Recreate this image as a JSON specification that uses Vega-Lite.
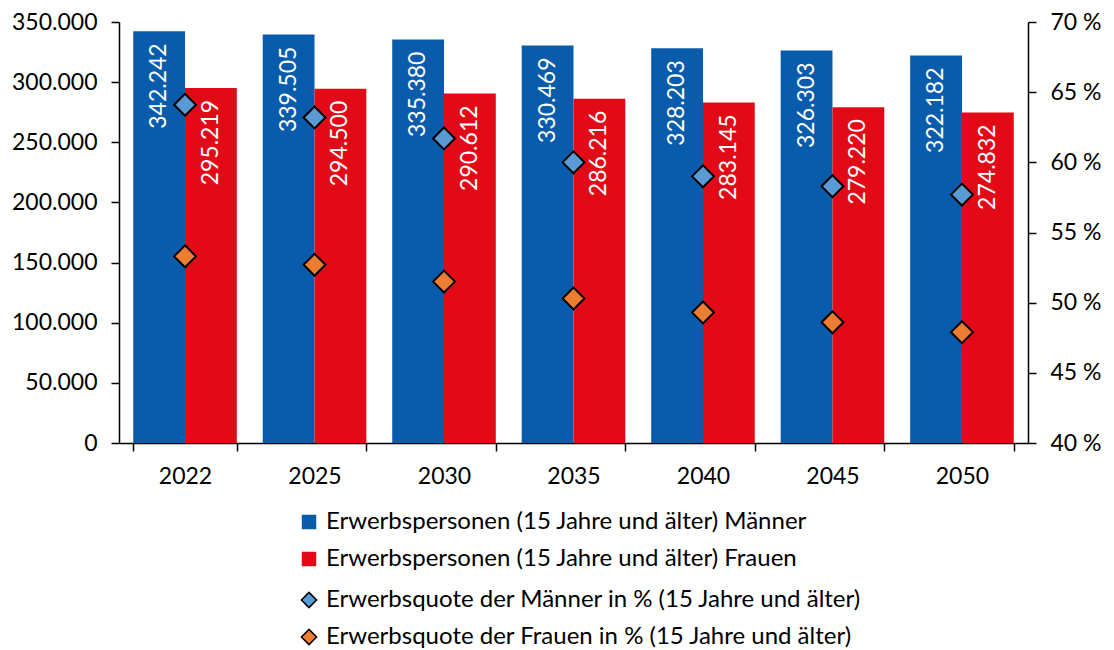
{
  "$schema": "https://vega.github.io/schema/vega-lite/v6.json",
  "autosize": {"type": "none"},
  "padding": {"left": 119, "top": 22, "right": 86, "bottom": 207},
  "width": 909,
  "height": 421,
  "background": "white",
  "config": {
    "locale": {"number": {"decimal": ",", "thousands": ".", "grouping": [3], "currency": ["", " €"]}},
    "font": "Lato",
    "view": {"stroke": null},
    "axis": {"labelFont": "Lato", "labelFontSize": 23, "labelColor": "#000000", "domainColor": "#000000", "tickColor": "#000000", "domainWidth": 1.5, "tickWidth": 1.5, "tickSize": 8, "grid": false, "title": null},
    "legend": {"labelFont": "Lato", "labelFontSize": 24, "labelColor": "#000000", "labelLimit": 800}
  },
  "datasets": {
    "bars": [
      {"jahr": "2022", "serie": "Erwerbspersonen (15 Jahre und älter) Männer", "wert": 342242},
      {"jahr": "2022", "serie": "Erwerbspersonen (15 Jahre und älter) Frauen", "wert": 295219},
      {"jahr": "2025", "serie": "Erwerbspersonen (15 Jahre und älter) Männer", "wert": 339505},
      {"jahr": "2025", "serie": "Erwerbspersonen (15 Jahre und älter) Frauen", "wert": 294500},
      {"jahr": "2030", "serie": "Erwerbspersonen (15 Jahre und älter) Männer", "wert": 335380},
      {"jahr": "2030", "serie": "Erwerbspersonen (15 Jahre und älter) Frauen", "wert": 290612},
      {"jahr": "2035", "serie": "Erwerbspersonen (15 Jahre und älter) Männer", "wert": 330469},
      {"jahr": "2035", "serie": "Erwerbspersonen (15 Jahre und älter) Frauen", "wert": 286216},
      {"jahr": "2040", "serie": "Erwerbspersonen (15 Jahre und älter) Männer", "wert": 328203},
      {"jahr": "2040", "serie": "Erwerbspersonen (15 Jahre und älter) Frauen", "wert": 283145},
      {"jahr": "2045", "serie": "Erwerbspersonen (15 Jahre und älter) Männer", "wert": 326303},
      {"jahr": "2045", "serie": "Erwerbspersonen (15 Jahre und älter) Frauen", "wert": 279220},
      {"jahr": "2050", "serie": "Erwerbspersonen (15 Jahre und älter) Männer", "wert": 322182},
      {"jahr": "2050", "serie": "Erwerbspersonen (15 Jahre und älter) Frauen", "wert": 274832}
    ],
    "quoten": [
      {"jahr": "2022", "quote": "Erwerbsquote der Männer in % (15 Jahre und älter)", "prozent": 64.1},
      {"jahr": "2022", "quote": "Erwerbsquote der Frauen in % (15 Jahre und älter)", "prozent": 53.3},
      {"jahr": "2025", "quote": "Erwerbsquote der Männer in % (15 Jahre und älter)", "prozent": 63.2},
      {"jahr": "2025", "quote": "Erwerbsquote der Frauen in % (15 Jahre und älter)", "prozent": 52.7},
      {"jahr": "2030", "quote": "Erwerbsquote der Männer in % (15 Jahre und älter)", "prozent": 61.7},
      {"jahr": "2030", "quote": "Erwerbsquote der Frauen in % (15 Jahre und älter)", "prozent": 51.5},
      {"jahr": "2035", "quote": "Erwerbsquote der Männer in % (15 Jahre und älter)", "prozent": 60.0},
      {"jahr": "2035", "quote": "Erwerbsquote der Frauen in % (15 Jahre und älter)", "prozent": 50.3},
      {"jahr": "2040", "quote": "Erwerbsquote der Männer in % (15 Jahre und älter)", "prozent": 59.0},
      {"jahr": "2040", "quote": "Erwerbsquote der Frauen in % (15 Jahre und älter)", "prozent": 49.3},
      {"jahr": "2045", "quote": "Erwerbsquote der Männer in % (15 Jahre und älter)", "prozent": 58.3},
      {"jahr": "2045", "quote": "Erwerbsquote der Frauen in % (15 Jahre und älter)", "prozent": 48.6},
      {"jahr": "2050", "quote": "Erwerbsquote der Männer in % (15 Jahre und älter)", "prozent": 57.7},
      {"jahr": "2050", "quote": "Erwerbsquote der Frauen in % (15 Jahre und älter)", "prozent": 47.9}
    ]
  },
  "layer": [
    {
      "data": {"name": "bars"},
      "layer": [
        {
          "mark": {"type": "bar"},
          "encoding": {
            "x": {"field": "jahr", "type": "nominal", "scale": {"paddingInner": 0.2, "paddingOuter": 0.11}, "axis": {"labelAngle": 0, "tickBand": "extent", "labelPadding": 14, "orient": "bottom"}},
            "xOffset": {"field": "serie", "type": "nominal", "sort": ["Erwerbspersonen (15 Jahre und älter) Männer", "Erwerbspersonen (15 Jahre und älter) Frauen"], "scale": {"paddingInner": 0}},
            "y": {"field": "wert", "type": "quantitative", "scale": {"domain": [0, 350000], "nice": false}, "axis": {"values": [0, 50000, 100000, 150000, 200000, 250000, 300000, 350000], "labelExpr": "format(datum.value, ',.0f')", "labelPadding": 14, "orient": "left"}},
            "color": {"field": "serie", "type": "nominal", "sort": ["Erwerbspersonen (15 Jahre und älter) Männer", "Erwerbspersonen (15 Jahre und älter) Frauen"], "scale": {"domain": ["Erwerbspersonen (15 Jahre und älter) Männer", "Erwerbspersonen (15 Jahre und älter) Frauen"], "range": ["#085CAB", "#E30A18"]}, "legend": {"title": null, "orient": "none", "legendX": 178, "legendY": 488, "symbolType": "square", "symbolSize": 210, "symbolStrokeWidth": 0, "rowPadding": 13, "labelOffset": 5}}
          }
        },
        {
          "mark": {"type": "text", "angle": -90, "align": "right", "baseline": "middle", "dx": -12, "color": "white", "fontSize": 23, "font": "Lato"},
          "encoding": {
            "x": {"field": "jahr", "type": "nominal"},
            "xOffset": {"field": "serie", "type": "nominal", "sort": ["Erwerbspersonen (15 Jahre und älter) Männer", "Erwerbspersonen (15 Jahre und älter) Frauen"]},
            "y": {"field": "wert", "type": "quantitative"},
            "text": {"field": "wert", "type": "quantitative", "format": ","}
          }
        }
      ]
    },
    {
      "data": {"name": "quoten"},
      "mark": {"type": "point", "shape": "diamond", "filled": true, "size": 480, "stroke": "black", "strokeWidth": 2, "opacity": 1},
      "encoding": {
        "x": {"field": "jahr", "type": "nominal"},
        "y": {"field": "prozent", "type": "quantitative", "scale": {"domain": [40, 70], "nice": false, "zero": false}, "axis": {"orient": "right", "values": [40, 45, 50, 55, 60, 65, 70], "labelExpr": "datum.value + ' %'", "labelPadding": 14}},
        "fill": {"field": "quote", "type": "nominal", "sort": ["Erwerbsquote der Männer in % (15 Jahre und älter)", "Erwerbsquote der Frauen in % (15 Jahre und älter)"], "scale": {"domain": ["Erwerbsquote der Männer in % (15 Jahre und älter)", "Erwerbsquote der Frauen in % (15 Jahre und älter)"], "range": ["#5B9BD5", "#ED7D31"]}, "legend": {"title": null, "orient": "none", "legendX": 178, "legendY": 566, "symbolType": "diamond", "symbolSize": 230, "symbolStrokeColor": "black", "symbolStrokeWidth": 1.5, "rowPadding": 13, "labelOffset": 5}}
      }
    }
  ],
  "resolve": {"scale": {"y": "independent"}}
}
